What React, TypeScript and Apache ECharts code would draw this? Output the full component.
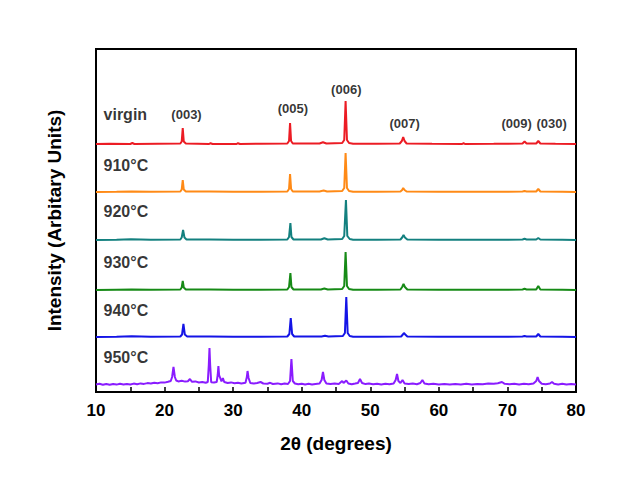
import React, { useEffect, useRef } from "react";
import * as echarts from "echarts";

// Sample names (top to bottom) and their vertical offsets (arbitrary units)
const sampleNames = ["virgin", "910°C", "920°C", "930°C", "940°C", "950°C"];
const sampleOffsets = [248, 200, 152, 102, 55, 7];
const sampleColors = ["#ec1c24", "#ff8a16", "#13807f", "#168a16", "#1414e6", "#8a1cff"];

// XRD traces: [2θ, intensity]
const virgin: number[][] = [
  [10, 0], [12, 0.3], [15, 0], [15.3, 1], [15.6, 0], [19, 0.3], [22.3, 0.5], [22.5, 2.5], [22.65, 16], [22.8, 2.5], [23.1, 0.5],
  [26.5, 0], [26.7, 0.8], [27, 0], [30.5, 0], [30.7, 0.8], [31, 0], [34, 0.3], [37.9, 0.5], [38.15, 3], [38.3, 21], [38.45, 3],
  [38.7, 0.5], [42.6, 0.5], [43.1, 1.8], [43.6, 0.5], [45.9, 1], [46.2, 4], [46.4, 43], [46.6, 4], [46.9, 1], [47.5, 0.3],
  [51, 0.2], [54.3, 0.5], [54.6, 3], [54.8, 7], [55, 3], [55.3, 0.5], [59, 0.2], [63.4, 0], [63.6, 0.8], [63.8, 0], [68, 0.2],
  [72.2, 0.5], [72.5, 2.5], [72.8, 0.5], [74.2, 0.5], [74.5, 3], [74.8, 0.5], [77, 0.2], [80, 0],
];
const s910: number[][] = [
  [10, 0], [13, 0.3], [15.2, 0.6], [18, 0.2], [22.3, 0.5], [22.5, 2.5], [22.65, 12], [22.8, 2.5], [23.1, 0.5], [26.6, 0.5],
  [30, 0.3], [34, 0.2], [37.9, 0.5], [38.15, 3], [38.3, 18], [38.45, 3], [38.7, 0.5], [42.6, 0.5], [43.2, 1.5], [43.7, 0.5],
  [45.9, 1], [46.2, 4], [46.4, 39], [46.6, 4], [46.9, 1], [47.5, 0.3], [51, 0.2], [54.4, 0.5], [54.65, 2], [54.8, 4],
  [55, 2], [55.3, 0.5], [60, 0.2], [65, 0.3], [70, 0.2], [72.2, 0.5], [72.5, 1], [72.8, 0.5], [74.2, 0.5], [74.5, 3],
  [74.8, 0.5], [78, 0.2], [80, 0],
];
const s920: number[][] = [
  [10, 0], [13, 0.3], [15.1, 0.7], [18, 0.2], [22.3, 0.5], [22.5, 2.5], [22.7, 10], [22.9, 2.5], [23.2, 0.5], [26.6, 0.6],
  [30, 0.2], [34, 0.3], [37.9, 0.5], [38.15, 3], [38.35, 17], [38.5, 3], [38.8, 0.5], [42.8, 0.5], [43.3, 1.8], [43.8, 0.5],
  [45.9, 1], [46.2, 4], [46.45, 40], [46.65, 4], [47, 1], [47.5, 0.3], [51, 0.2], [54.4, 0.5], [54.65, 2.5], [54.85, 5],
  [55.05, 2.5], [55.4, 0.5], [60, 0.2], [65, 0.3], [70, 0.2], [72.2, 0.5], [72.5, 1.2], [72.8, 0.5], [74.2, 0.5], [74.5, 2],
  [74.8, 0.5], [78, 0.2], [80, 0],
];
const s930: number[][] = [
  [10, 0], [13, 0.3], [15.2, 0.5], [18, 0.2], [22.3, 0.5], [22.5, 2.5], [22.65, 9], [22.8, 2.5], [23.1, 0.5], [26.6, 0.6],
  [30, 0.3], [34, 0.2], [37.9, 0.5], [38.15, 3], [38.35, 17], [38.5, 3], [38.8, 0.5], [42.8, 0.5], [43.3, 1.5], [43.8, 0.5],
  [45.9, 1], [46.2, 4], [46.4, 38], [46.6, 4], [46.9, 1], [47.5, 0.3], [51, 0.2], [54.4, 0.5], [54.65, 3], [54.85, 6],
  [55.05, 3], [55.4, 0.5], [60, 0.2], [65, 0.3], [70, 0.2], [72.2, 0.5], [72.5, 1.2], [72.8, 0.5], [74.2, 0.5], [74.5, 4],
  [74.8, 0.5], [78, 0.2], [80, 0],
];
const s940: number[][] = [
  [10, 0], [13, 0.3], [15.2, 0.8], [18, 0.2], [22.3, 0.5], [22.55, 2.5], [22.75, 13], [22.95, 2.5], [23.3, 0.5], [26.6, 0.6],
  [30, 0.2], [34, 0.3], [37.9, 0.5], [38.2, 3], [38.4, 19], [38.6, 3], [38.9, 0.5], [42.9, 0.5], [43.4, 1.2], [43.9, 0.5],
  [46, 1], [46.3, 4], [46.5, 40], [46.7, 4], [47, 1], [47.5, 0.3], [51, 0.2], [54.5, 0.5], [54.75, 2.5], [54.9, 4],
  [55.1, 2.5], [55.4, 0.5], [60, 0.2], [65, 0.3], [70, 0.2], [72.2, 0.5], [72.5, 1], [72.8, 0.5], [74.2, 0.5], [74.5, 3],
  [74.8, 0.5], [78, 0.2], [80, 0],
];
const s950: number[][] = [
  [10, 0.5], [10.5, 1.2], [11, 0.3], [11.5, 1], [12, 0.2], [12.5, 0.9], [13, 0.4], [13.5, 1.3], [14, 0.6], [14.5, 1.1],
  [15, 0.5], [15.5, 1.4], [16, 0.8], [16.5, 1.6], [17, 1.1], [17.5, 1.9], [18, 1.5], [18.5, 2.2], [19, 1.8], [19.5, 2.6],
  [20, 2.4], [20.5, 3.2], [20.9, 4], [21.1, 8], [21.3, 18], [21.5, 8], [21.7, 4.5], [22, 3.6], [22.5, 4.2], [23, 3.4],
  [23.4, 3.8], [23.7, 6], [24, 3.2], [24.5, 3.6], [25, 2.5], [25.5, 3], [26, 2.2], [26.3, 3], [26.45, 20], [26.55, 37],
  [26.65, 20], [26.8, 2.8], [27.2, 2.4], [27.6, 3], [27.75, 10], [27.85, 19], [27.95, 10], [28.3, 3.5], [28.5, 7], [28.7, 3],
  [29.2, 2], [29.7, 2.6], [30.2, 1.8], [30.7, 2.3], [31.2, 1.6], [31.8, 2.2], [32, 8], [32.1, 14], [32.25, 7], [32.5, 2],
  [33, 1.4], [33.5, 2], [34, 3], [34.4, 1.5], [35, 1.2], [35.4, 2.2], [35.8, 1], [36.5, 1.6], [37, 0.8], [37.5, 1.4],
  [38, 1], [38.3, 4], [38.5, 26], [38.7, 4], [39, 1.5], [39.5, 0.7], [40, 1.3], [40.5, 0.6], [41, 1.2], [41.5, 0.5],
  [42, 1.1], [42.6, 1.5], [42.9, 5], [43.1, 13], [43.3, 5], [43.6, 1.4], [44.2, 0.9], [44.8, 1.5], [45.4, 1], [45.9, 4],
  [46.1, 2], [46.5, 4.5], [46.8, 1.5], [47.3, 0.8], [47.8, 1.4], [48.2, 2], [48.5, 6], [48.8, 2], [49.3, 0.9], [49.8, 1.5],
  [50.4, 0.7], [51, 1.3], [51.6, 0.6], [52.2, 1.2], [52.8, 0.8], [53.4, 1.6], [53.7, 5], [53.9, 11], [54.1, 4], [54.4, 2],
  [54.7, 5], [55, 1.4], [55.6, 0.9], [56.2, 1.4], [56.8, 0.8], [57.3, 2], [57.6, 5], [57.9, 1.5], [58.5, 0.7], [59.2, 1.2],
  [60, 0.5], [60.8, 1.1], [61.6, 0.4], [62.4, 1], [63.2, 0.6], [64, 1.2], [64.8, 0.5], [65.6, 1.1], [66.4, 0.8], [67.2, 1.6],
  [68, 1.2], [68.6, 1.8], [69.2, 3], [69.6, 1.2], [70.3, 0.8], [71, 1.3], [71.7, 0.6], [72.4, 1.2], [73.1, 0.7], [73.8, 1.6],
  [74.2, 4], [74.4, 8], [74.6, 4], [75, 1.2], [75.6, 0.8], [76.2, 1.5], [76.5, 3], [76.8, 1.2], [77.4, 0.6], [78, 1.2],
  [78.6, 0.5], [79.3, 1.1], [80, 0.6],
];
const traces = [virgin, s910, s920, s930, s940, s950];

// Miller-index annotations: [2θ, y, label]
const peakLabels: [number, number, string][] = [
  [23.2, 278, "(003)"],
  [38.7, 284, "(005)"],
  [46.5, 303, "(006)"],
  [55.0, 269, "(007)"],
  [71.35, 269, "(009)"],
  [76.45, 269, "(030)"],
];
// Sample-name label anchors: [2θ, y]
const nameAnchors: number[][] = [
  [11.1, 278], [11.1, 227], [11.1, 181], [11.1, 130], [11.1, 82], [11.1, 35],
];

const xTicks = { min: 10, max: 80, interval: 10 };
const FONT = "Arial, 'Liberation Sans', sans-serif";

export default function App() {
  const ref = useRef<HTMLDivElement>(null);
  useEffect(() => {
    if (!ref.current) return;
    const chart = echarts.init(ref.current, undefined, { renderer: "svg" });
    const lineSeries = traces.map((t, i) => ({
      type: "line",
      name: sampleNames[i],
      data: t.map(([x, y]) => [x, y + sampleOffsets[i]]),
      showSymbol: false,
      symbol: "none",
      lineStyle: { color: sampleColors[i], width: 2 },
      itemStyle: { color: sampleColors[i] },
      z: 3,
    }));
    const option: any = {
      animation: false,
      backgroundColor: "#ffffff",
      grid: {
        left: 96, right: 64, top: 49, bottom: 99,
        show: true, borderColor: "#000", borderWidth: 2, backgroundColor: "transparent",
      },
      xAxis: {
        type: "value",
        min: xTicks.min, max: xTicks.max, interval: xTicks.interval,
        name: "2θ (degrees)",
        nameLocation: "middle",
        nameGap: 42,
        nameTextStyle: { fontFamily: FONT, fontWeight: "bold", fontSize: 19, color: "#000" },
        axisLine: { show: true, lineStyle: { color: "#000", width: 2 } },
        axisTick: { show: true, inside: true, length: 5, lineStyle: { color: "#000", width: 1.5 } },
        minorTick: { show: true, splitNumber: 2, length: 5, lineStyle: { color: "#000", width: 1.5 } },
        axisLabel: { fontFamily: FONT, fontWeight: "bold", fontSize: 17, color: "#000", margin: 10 },
        splitLine: { show: false },
        minorSplitLine: { show: false },
      },
      yAxis: {
        type: "value",
        min: 0, max: 343,
        name: "Intensity (Arbitary Units)",
        nameLocation: "middle",
        nameGap: 32,
        nameTextStyle: { fontFamily: FONT, fontWeight: "bold", fontSize: 19, color: "#000" },
        axisLine: { show: true, lineStyle: { color: "#000", width: 2 } },
        axisTick: { show: false },
        axisLabel: { show: false },
        splitLine: { show: false },
      },
      series: [
        ...lineSeries,
        {
          type: "scatter",
          symbolSize: 0,
          data: peakLabels.map(([x, y, t]) => ({ value: [x, y], name: t })),
          label: {
            show: true, position: "inside", formatter: (p: any) => p.name,
            fontFamily: FONT, fontWeight: "bold", fontSize: 13, color: "#000",
          },
          silent: true, z: 5,
        },
        {
          type: "scatter",
          symbolSize: 0,
          data: nameAnchors.map(([x, y], i) => ({ value: [x, y], name: sampleNames[i] })),
          label: {
            show: true, position: "right", distance: 0, formatter: (p: any) => p.name,
            fontFamily: FONT, fontWeight: "bold", fontSize: 16, color: "#000",
          },
          silent: true, z: 5,
        },
      ],
    };
    chart.setOption(option);
    return () => chart.dispose();
  }, []);
  return (
    <div
      ref={ref}
      style={{ position: "fixed", left: 0, top: 0, width: 640, height: 491 }}
    />
  );
}
